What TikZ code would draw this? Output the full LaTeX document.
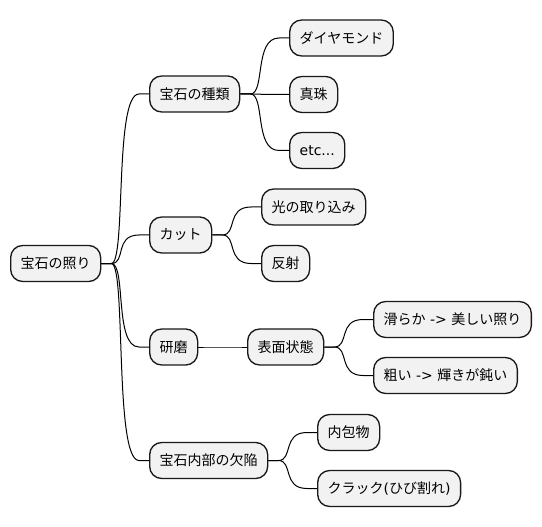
\documentclass[tikz,border=0pt]{standalone}
\usepackage{fontspec}
\setmainfont{DejaVu Sans}
\newfontfamily\jp{Noto Sans CJK JP}
\tikzset{
	topic/.style={draw=black!90, fill=black!5, line width=1pt, rounded corners=9pt,
		anchor=west, minimum height=27pt, inner xsep=7.5pt, inner ysep=0pt, font=\fontsize{10.5pt}{12pt}\selectfont},
	branch/.style={line width=0.75pt, to path={-- ++(10,0) .. controls +(15,0) and +(-25,0) .. ([xshift=-7.5pt]\tikztotarget) -- (\tikztotarget)}}
}
\begin{document}
\begin{tikzpicture}[x=0.75pt, y=-0.75pt]
			\useasboundingbox (0,0) rectangle (542,527);
			
			%root
			\node[topic] (root) at (10,263.5) {\jp 宝石の照り};
			
			%first level
			\node[topic] (shurui) at (149,94) {\jp 宝石の種類};
			\node[topic] (cut) at (149,235) {\jp カット};
			\node[topic] (kenma) at (149,347) {\jp 研磨};
			\node[topic] (kekkan) at (149,460.5) {\jp 宝石内部の欠陥};
			
			%second level
			\node[topic] (diamond) at (289,38) {\jp ダイヤモンド};
			\node[topic] (shinju) at (289,94.5) {\jp 真珠};
			\node[topic] (etc) at (289,150.5) {etc...};
			\node[topic] (hikari) at (261,207) {\jp 光の取り込み};
			\node[topic] (hansha) at (261,263.5) {\jp 反射};
			\node[topic] (hyomen) at (247,347) {\jp 表面状態};
			\node[topic] (naihou) at (317,432.5) {\jp 内包物};
			\node[topic] (crack) at (317,488.5) {{\jp クラック}({\jp ひび割れ})};
			
			%third level
			\node[topic] (nameraka) at (373,319.5) {{\jp 滑らか} -> {\jp 美しい照り}};
			\node[topic] (arai) at (373,375.5) {{\jp 粗い} -> {\jp 輝きが鈍い}};
			
			%connectors
			\foreach \a/\b in {root/shurui, root/cut, root/kenma, root/kekkan,
				shurui/diamond, shurui/shinju, shurui/etc, cut/hikari, cut/hansha,
				kenma/hyomen, hyomen/nameraka, hyomen/arai, kekkan/naihou, kekkan/crack}
				\draw[branch] (\a.east) to (\b.west);
		\end{tikzpicture}
\end{document}
